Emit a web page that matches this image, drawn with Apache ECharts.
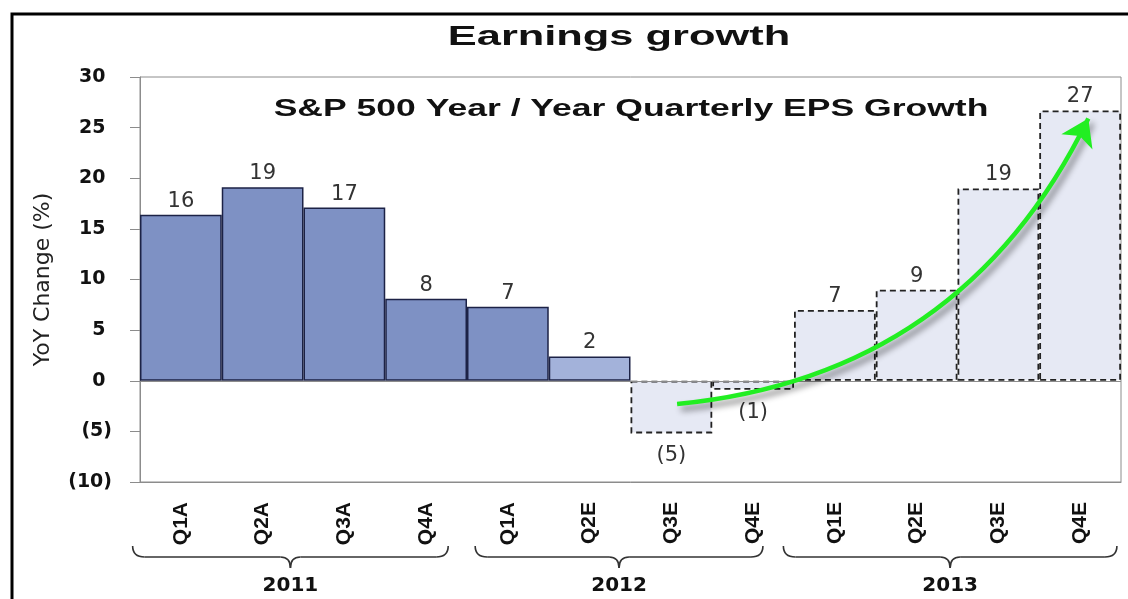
<!DOCTYPE html>
<html lang="en">
<head>
<meta charset="UTF-8">
<title>Earnings growth</title>
<style>
    html, body { margin: 0; padding: 0; background: #fff; }
    #main { width: 1128px; height: 599px; }
</style>
</head>
<body>
<div id="main"></div>
<script src="https://cdn.jsdelivr.net/npm/echarts@6/dist/echarts.min.js"></script>
<script>
    // quarters along the bottom
    var quarters = ['Q1A', 'Q2A', 'Q3A', 'Q4A', 'Q1A', 'Q2E', 'Q3E', 'Q4E', 'Q1E', 'Q2E', 'Q3E', 'Q4E'];
    // S&P 500 year / year quarterly EPS growth, %
    var growth = [16.4, 19.1, 17.1, 8.1, 7.3, 2.4, -5.2, -0.9, 7.0, 9.0, 19.0, 26.7];
    // a = reported, p = partly reported, e = estimate
    var barKind = ['a', 'a', 'a', 'a', 'a', 'p', 'e', 'e', 'e', 'e', 'e', 'e'];
    var years = ['2011', '2012', '2013'];
    var yTicks = [-10, -5, 0, 5, 10, 15, 20, 25, 30];
    // trend arrow, start / end as (category position, %)
    var arrowFrom = [6.07, -2.3];
    var arrowTo = [11.1, 25.9];

    // layout only: where each year brace starts / ends, in category units
    var braceSpan = [[-0.59, 3.27], [3.6, 7.12], [7.37, 11.45]];

    var fmt = function (v) {
        return v < 0 ? '(' + Math.abs(v) + ')' : '' + v;
    };

    var barStyle = function (s) {
        if (s === 'a') return { color: '#7e91c4', borderColor: '#1c2246', borderWidth: 1.5, borderType: 'solid' };
        if (s === 'p') return { color: '#a3b2da', borderColor: '#1c2246', borderWidth: 1.5, borderType: 'solid' };
        return { color: '#e6e9f4', borderColor: '#222', borderWidth: 1.8, borderType: [6, 4] };
    };

    var barData = growth.map(function (v, i) {
        return {
            value: v,
            itemStyle: barStyle(barKind[i]),
            label: { position: v < 0 ? 'bottom' : 'top', distance: v < 0 ? 12 : 3 }
        };
    });

    var target = document.getElementById('main');
    var chart = echarts.init(target);

    var option = {
        animation: false,
        backgroundColor: '#fff',
        grid: {
            left: 140, right: 7, top: 77, bottom: 117,
            show: true, backgroundColor: '#fff', borderColor: '#8c8c8c', borderWidth: 1
        },
        xAxis: [
            {
                type: 'category',
                data: quarters,
                axisLine: { show: true, onZero: false, lineStyle: { color: '#8c8c8c' } },
                axisTick: { show: false },
                axisLabel: {
                    rotate: 90, margin: 20, color: '#111',
                    fontFamily: 'Liberation Sans', fontWeight: 'bold', fontSize: 21
                }
            },
            {
                // hidden helper axis for the arrow and braces
                type: 'value', show: false, min: -0.5, max: quarters.length - 0.5,
                axisLine: { onZero: false }
            }
        ],
        yAxis: {
            type: 'value',
            min: yTicks[0],
            max: yTicks[yTicks.length - 1],
            interval: yTicks[1] - yTicks[0],
            name: 'YoY Change (%)',
            nameLocation: 'middle',
            nameGap: 86,
            nameTextStyle: { fontFamily: 'DejaVu Sans', fontSize: 22, color: '#222' },
            axisLine: { show: true, onZero: false, lineStyle: { color: '#8c8c8c' } },
            axisTick: { show: true, inside: false, length: 10, lineStyle: { color: '#8c8c8c' } },
            splitLine: { show: false },
            axisLabel: {
                margin: 28, color: '#111', padding: [6, 0, 0, 0],
                fontFamily: 'DejaVu Sans', fontWeight: 'bold', fontSize: 19,
                formatter: function (v) { return v < 0 ? fmt(v) : v + '\u00a0'; }
            }
        },
        series: [
            {
                type: 'bar',
                data: barData,
                barCategoryGap: '0%',
                label: {
                    show: true, color: '#333',
                    fontFamily: 'DejaVu Sans', fontSize: 21,
                    formatter: function (p) { return fmt(Math.round(p.value)); }
                },
                markLine: {
                    silent: true, symbol: 'none', label: { show: false },
                    lineStyle: { color: '#8c8c8c', width: 1, type: 'solid' },
                    data: [{ yAxis: 0 }]
                }
            },
            {
                type: 'lines',
                coordinateSystem: 'cartesian2d',
                xAxisIndex: 1,
                yAxisIndex: 0,
                z: 5,
                symbol: ['none', 'arrow'],
                symbolSize: 26,
                lineStyle: {
                    color: '#22ee22', width: 4.5, opacity: 1, curveness: -0.28,
                    shadowColor: 'rgba(0,0,0,0.45)', shadowBlur: 6, shadowOffsetX: 4, shadowOffsetY: 5
                },
                data: [{ coords: [arrowFrom, arrowTo] }]
            }
        ]
    };
    chart.setOption(option);

    // frame, titles, year braces
    var px = function (x) { return chart.convertToPixel({ xAxisIndex: 1 }, x); };
    var graphics = [
        {
            type: 'rect', z: 10, silent: true,
            shape: { x: 12, y: 14, width: 1140, height: 620 },
            style: { fill: 'none', stroke: '#000', lineWidth: 3 }
        },
        {
            type: 'text', x: 619, y: 37, scaleX: 1.55, z: 10,
            style: {
                text: 'Earnings growth', fill: '#111', align: 'center', verticalAlign: 'middle',
                fontFamily: 'Liberation Sans', fontWeight: 'bold', fontSize: 28
            }
        },
        {
            type: 'text', x: 631, y: 109, scaleX: 1.48, z: 10,
            style: {
                text: 'S&P 500 Year / Year Quarterly EPS Growth', fill: '#111', align: 'center', verticalAlign: 'middle',
                fontFamily: 'Liberation Sans', fontWeight: 'bold', fontSize: 24
            }
        }
    ];
    var braceTop = 546, braceMid = 557, braceTip = 568;
    braceSpan.forEach(function (s, i) {
        var l = px(s[0]), r = px(s[1]), m = (l + r) / 2;
        var parts = [
            { type: 'bezierCurve', shape: { x1: l, y1: braceTop, cpx1: l, cpy1: braceMid, x2: l + 12, y2: braceMid } },
            { type: 'line', shape: { x1: l + 12, y1: braceMid, x2: m - 10, y2: braceMid } },
            { type: 'bezierCurve', shape: { x1: m - 10, y1: braceMid, cpx1: m, cpy1: braceMid, x2: m, y2: braceTip } },
            { type: 'bezierCurve', shape: { x1: m, y1: braceTip, cpx1: m, cpy1: braceMid, x2: m + 10, y2: braceMid } },
            { type: 'line', shape: { x1: m + 10, y1: braceMid, x2: r - 12, y2: braceMid } },
            { type: 'bezierCurve', shape: { x1: r - 12, y1: braceMid, cpx1: r, cpy1: braceMid, x2: r, y2: braceTop } }
        ];
        parts.forEach(function (p) {
            p.silent = true;
            p.style = { fill: 'none', stroke: '#333', lineWidth: 1.6 };
            graphics.push(p);
        });
        graphics.push({
            type: 'text', x: m, y: 586,
            style: {
                text: years[i], fill: '#111', align: 'center', verticalAlign: 'middle',
                fontFamily: 'DejaVu Sans', fontWeight: 'bold', fontSize: 20
            }
        });
    });
    chart.setOption({ graphic: graphics });
</script>
</body>
</html>
